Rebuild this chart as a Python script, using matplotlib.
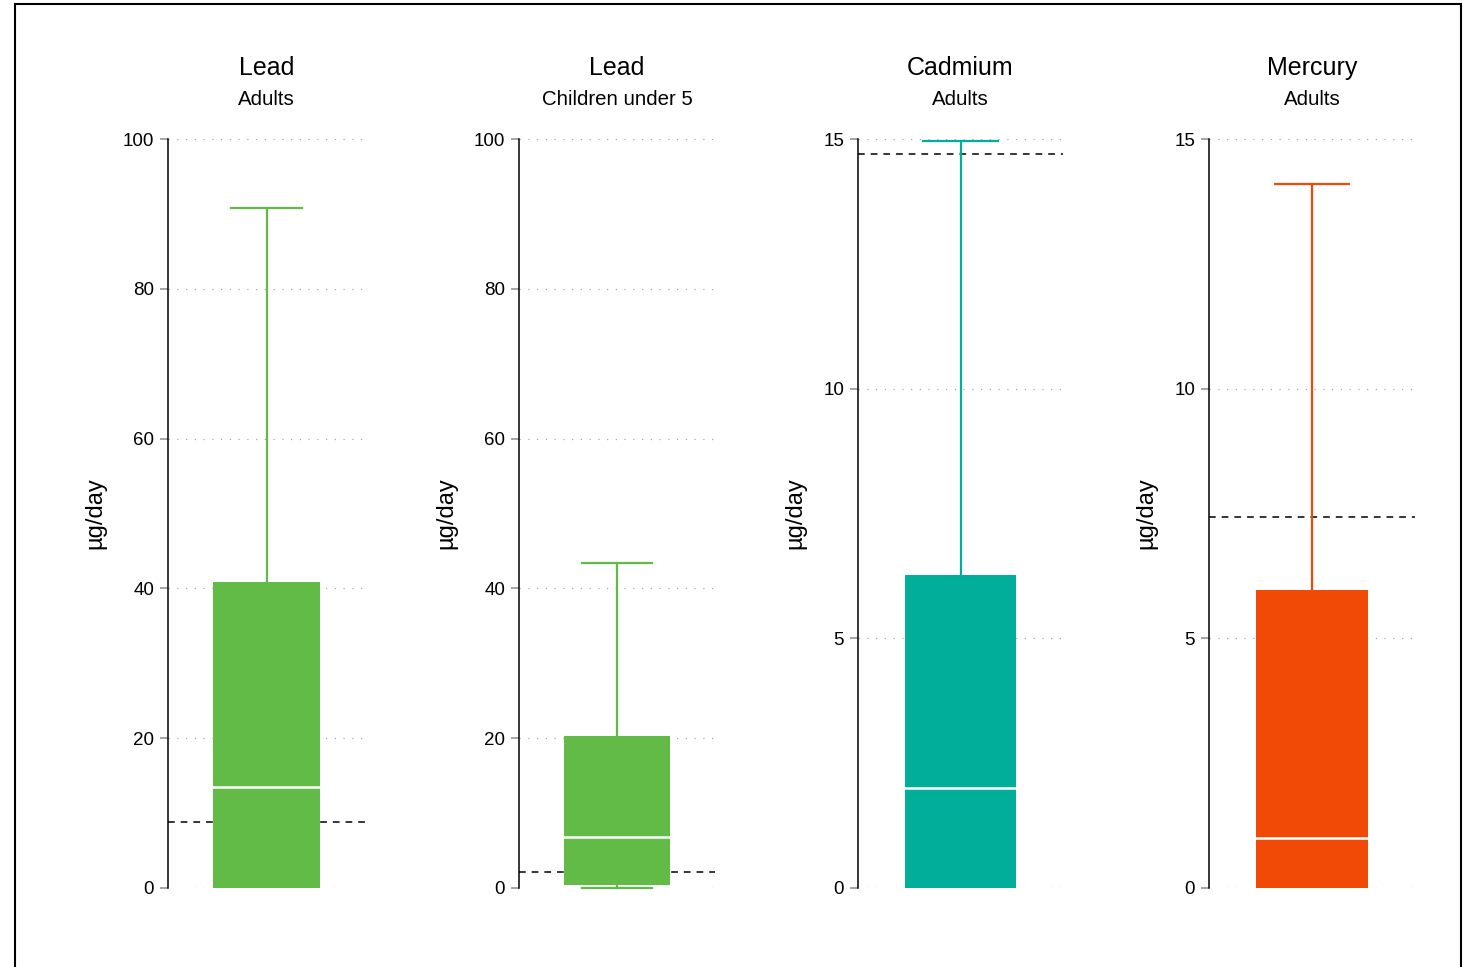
import matplotlib
matplotlib.use('Agg')
import matplotlib.pyplot as plt
from matplotlib.patches import Rectangle

plt.rcParams['font.family'] = ['Liberation Sans', 'DejaVu Sans']

# intake distributions per metal / population group (µg/day)
metals = ['Lead', 'Lead', 'Cadmium', 'Mercury']
groups = ['Adults', 'Children under 5', 'Adults', 'Adults']
whisker_low = [0, 0, 0, 0]
q1 = [0, 0.4, 0, 0]
median = [13.5, 6.8, 2.0, 1.0]
q3 = [40.8, 20.3, 6.27, 5.97]
whisker_high = [90.8, 43.4, 14.95, 14.1]
reference = [8.8, 2.1, 14.7, 7.43]   # tolerable intake levels
y_max = [100, 100, 15, 15]
y_step = [20, 20, 5, 5]

colors = ['#62BB47', '#62BB47', '#00AE99', '#F04A06']

W, H = 1463, 967
fig = plt.figure(figsize=(W / 100, H / 100), dpi=100)

# panel extents in pixels
lefts = [168, 519, 858, 1209]
rights = [365, 715, 1063, 1415]
top_px, bottom_px = 139, 888

box_w = 1.03
cap_w = box_w * 2 / 3

for i in range(4):
    ax = fig.add_axes([lefts[i] / W, (H - bottom_px) / H,
                       (rights[i] - lefts[i]) / W, (bottom_px - top_px) / H])
    c = colors[i]

    ax.set_xlim(-0.95, 0.95)
    ax.set_ylim(0, y_max[i])
    ax.set_yticks(range(0, y_max[i] + 1, y_step[i]))
    ax.set_xticks([])

    for s in ['top', 'right', 'bottom']:
        ax.spines[s].set_visible(False)
    ax.spines['left'].set_linewidth(1.1)
    ax.spines['left'].set_color('black')
    ax.tick_params(axis='y', length=6, width=1.1, color='#8c8c8c',
                   labelsize=13.5, pad=4, labelcolor='black')

    ax.grid(axis='y', linestyle=(0, (1, 6)), color='#aaaaaa', lw=0.9, zorder=0)
    ax.set_axisbelow(True)

    # reference line
    ax.axhline(reference[i], color='black', lw=1.1, linestyle=(0, (4.4, 3.9)), zorder=1)

    # whiskers and caps
    ax.plot([0, 0], [q3[i], whisker_high[i]], color=c, lw=1.6, zorder=2,
            solid_capstyle='butt', clip_on=False)
    ax.plot([-cap_w / 2, cap_w / 2], [whisker_high[i]] * 2, color=c, lw=1.6,
            zorder=2, clip_on=False)
    if whisker_low[i] < q1[i]:
        ax.plot([0, 0], [whisker_low[i], q1[i]], color=c, lw=1.6, zorder=2,
                clip_on=False)
        ax.plot([-cap_w / 2, cap_w / 2], [whisker_low[i]] * 2, color=c, lw=1.6,
                zorder=2, clip_on=False)

    # box and median
    ax.bar(0, q3[i] - q1[i], bottom=q1[i], width=box_w, color=c, zorder=3)
    ax.plot([-box_w / 2, box_w / 2], [median[i]] * 2, color='white', lw=1.8, zorder=4)

    ax.set_ylabel('µg/day', fontsize=17, labelpad=12)

    ax.annotate(metals[i], xy=(0.5, 1), xycoords='axes fraction',
                xytext=(0, 51), textcoords='offset points',
                ha='center', va='center', fontsize=18)
    ax.annotate(groups[i], xy=(0.5, 1), xycoords='axes fraction',
                xytext=(0, 28.5), textcoords='offset points',
                ha='center', va='center', fontsize=14.7)

# outer frame
fig.add_artist(Rectangle((15 / W, -0.05), (1461 - 15) / W, 1 - 4 / H + 0.05,
                         transform=fig.transFigure, fill=False,
                         lw=1.5, ec='black'))

fig.savefig('out.png', dpi=100)
